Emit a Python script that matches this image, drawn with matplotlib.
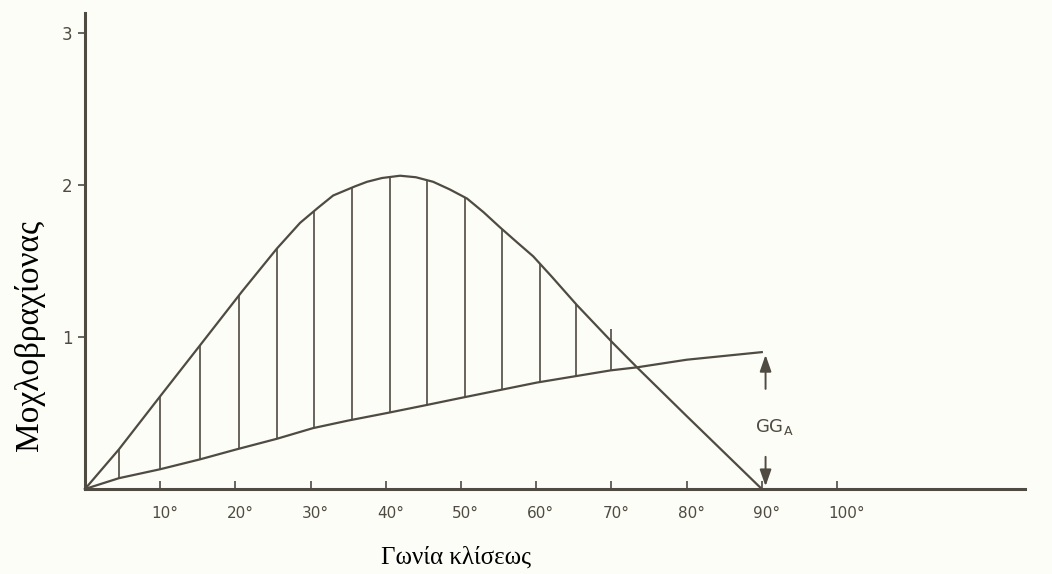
import matplotlib
matplotlib.use("Agg")
import matplotlib.pyplot as plt
import matplotlib.transforms as mtransforms
import numpy as np

# heel angle (deg) and righting arm GZ
gz_angle = [0, 4.5, 10, 15.3, 20.9, 25.5, 28.6, 31, 33, 35.9, 37.5, 39.5, 41.9,
            44, 46.3, 48.5, 50.8, 53, 55.2, 57.5, 59.6, 62, 65.4, 70.2, 73.4, 80, 85, 90]
gz_value = [0, 0.26, 0.61, 0.945, 1.30, 1.58, 1.75, 1.85, 1.93, 1.99, 2.02, 2.045, 2.06,
            2.05, 2.02, 1.97, 1.91, 1.82, 1.72, 1.62, 1.53, 1.40, 1.21, 0.96, 0.80, 0.48, 0.24, 0]

# GG_A sin(phi) curve
gga_angle = [0, 4.5, 10, 15.3, 20.1, 25.5, 30.3, 35, 40.2, 45.2, 50.1, 55.1,
             60.1, 65, 69.9, 73.4, 80, 85, 90]
gga_value = [0, 0.071, 0.13, 0.195, 0.26, 0.33, 0.40, 0.45, 0.50, 0.55, 0.60, 0.65,
             0.70, 0.74, 0.78, 0.80, 0.85, 0.875, 0.90]

hatch_angle = [4.5, 10, 15.3, 20.5, 25.5, 30.5, 35.5, 40.5, 45.5, 50.5, 55.5, 60.5, 65.3, 70]

x_ticks = [10, 20, 30, 40, 50, 60, 70, 80, 90, 100]
x_tick_labels = ["10°", "20°", "30°", "40°", "50°", "60°", "70°", "80°", "90°", "100°"]
y_ticks = [1, 2, 3]
y_tick_labels = ["1", "2", "3"]

ink = "#4f4b42"
paper = "#fdfdf7"

fig = plt.figure(figsize=(10.52, 5.74), dpi=100, facecolor=paper)
ax = fig.add_axes([85 / 1052, 85 / 574, 940 / 1052, 476 / 574])
ax.set_facecolor(paper)

ax.plot(gz_angle, gz_value, color=ink, lw=1.6, clip_on=False, solid_joinstyle="round")
ax.plot(gga_angle, gga_value, color=ink, lw=1.6, clip_on=False, solid_joinstyle="round")

# vertical hatching between the two curves
lo = np.interp(hatch_angle, gga_angle, gga_value)
hi = np.interp(hatch_angle, gz_angle, gz_value)
hi[-1] += 0.08
ax.vlines(hatch_angle, lo, hi, color=ink, lw=1.2)

# GG_A dimension arrows at 90 deg
arrow = dict(arrowstyle="-|>,head_length=1.0,head_width=0.35", color=ink, lw=1.4)
ax.annotate("", xy=(90.5, 0.90), xytext=(90.5, 0.64), arrowprops=arrow)
ax.annotate("", xy=(90.5, 0.0), xytext=(90.5, 0.23), arrowprops=arrow)
ax.text(91.6, 0.41, "GG$_\\mathregular{A}$", color=ink, fontsize=13,
        ha="center", va="center")

ax.set_xlim(0, 125)
ax.set_ylim(0, 3.13)
for side in ["top", "right"]:
    ax.spines[side].set_visible(False)
for side in ["left", "bottom"]:
    ax.spines[side].set_color(ink)
    ax.spines[side].set_linewidth(2.2)

ax.set_xticks(x_ticks)
ax.set_xticklabels(x_tick_labels)
ax.set_yticks(y_ticks)
ax.set_yticklabels(y_tick_labels)
ax.tick_params(axis="x", direction="in", length=6, width=1.2, colors=ink,
               labelsize=11, pad=12)
ax.tick_params(axis="y", direction="out", length=5, width=1.2, colors=ink,
               labelsize=12, pad=4)
# nudge the degree labels so the number sits under the tick
shift = mtransforms.ScaledTranslation(-9 / 100, 0, fig.dpi_scale_trans)
for lbl in ax.get_xticklabels():
    lbl.set_horizontalalignment("left")
    lbl.set_transform(lbl.get_transform() + shift)

fig.text(30 / 1052, 1 - 335 / 574, "Μοχλοβραχίονας", rotation=90,
         family="Liberation Serif", fontsize=24, ha="center", va="center", color="black")
fig.text(456 / 1052, 1 - 557 / 574, "Γωνία κλίσεως",
         family="Liberation Serif", fontsize=18, ha="center", va="center", color="black")

fig.savefig("out.png", dpi=100, facecolor=paper)
